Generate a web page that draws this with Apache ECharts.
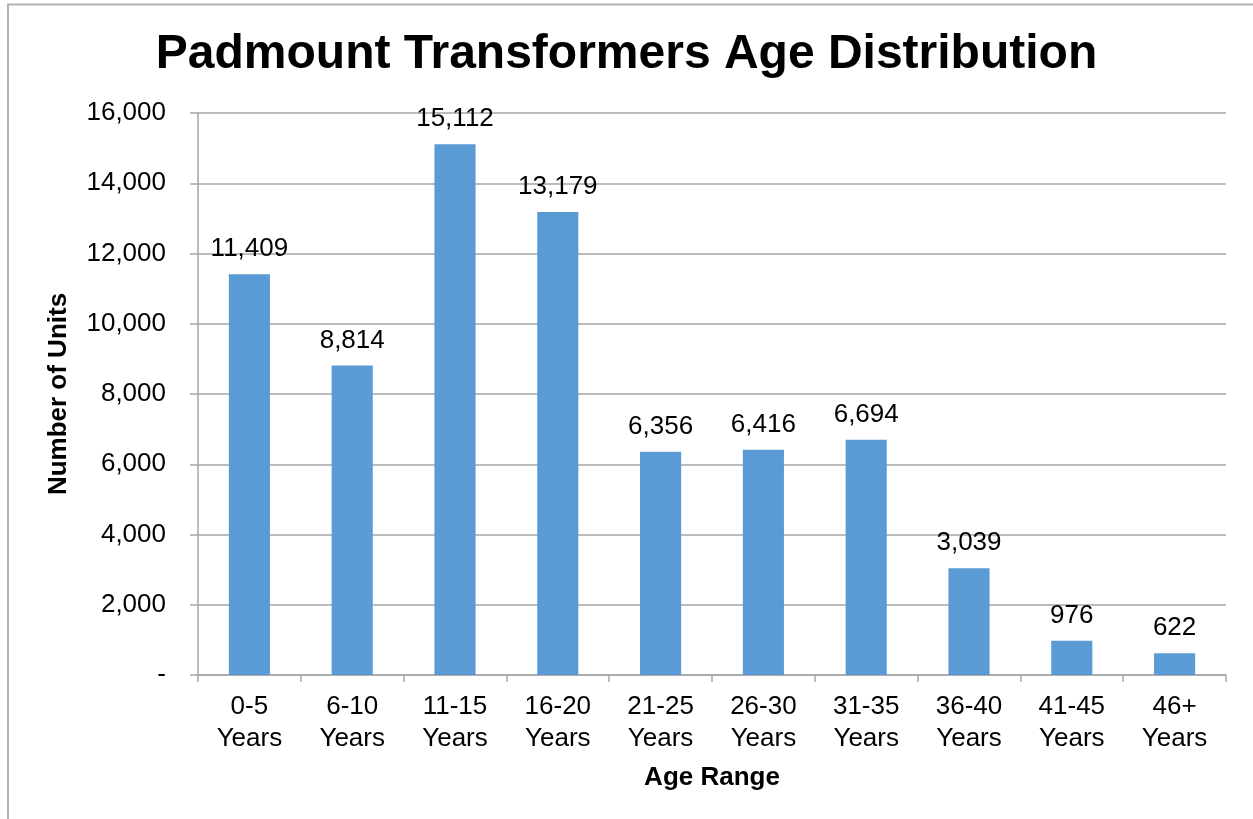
<!DOCTYPE html>
<html>
<head>
<meta charset="utf-8">
<script src="https://cdn.jsdelivr.net/npm/echarts@6/dist/echarts.min.js"></script>
<style>
  html, body { margin: 0; padding: 0; background: #fff; }
  #chart { width: 1253px; height: 819px; }
</style>
</head>
<body>
<div id="chart"></div>
<script>
// Padmount transformer counts per age bracket
const categories = ['0-5\nYears', '6-10\nYears', '11-15\nYears', '16-20\nYears', '21-25\nYears',
                    '26-30\nYears', '31-35\nYears', '36-40\nYears', '41-45\nYears', '46+\nYears'];
const units = [11409, 8814, 15112, 13179, 6356, 6416, 6694, 3039, 976, 622];
const yTicks = { min: 0, max: 16000, interval: 2000 };

const FONT = '"Liberation Sans", Arial, sans-serif';
const fmt = v => v === 0 ? '-' : v.toLocaleString('en-US');

const chart = echarts.init(document.getElementById('chart'), null, { renderer: 'canvas' });
chart.setOption({
  animation: false,
  backgroundColor: '#ffffff',
  textStyle: { fontFamily: FONT },
  graphic: [{
    type: 'rect',
    shape: { x: 8, y: 4.5, width: 1300, height: 900 },
    style: { fill: 'none', stroke: '#B4B4B4', lineWidth: 2 },
    silent: true,
    z: 100
  }],
  title: {
    text: 'Padmount Transformers Age Distribution',
    left: 'center',
    top: 31,
    padding: [0, 0, 0, 8],
    textStyle: { fontFamily: FONT, fontSize: 48, fontWeight: 'bold', color: '#000' }
  },
  grid: { left: 198, right: 27, top: 113, bottom: 144, containLabel: false },
  xAxis: {
    type: 'category',
    data: categories,
    name: 'Age Range',
    nameLocation: 'middle',
    nameGap: 90,
    nameTextStyle: { fontFamily: FONT, fontSize: 26, fontWeight: 'bold', color: '#000' },
    axisLine: { lineStyle: { color: '#A6A6A6', width: 1.5 } },
    axisTick: { show: true, alignWithLabel: false, length: 7, lineStyle: { color: '#A6A6A6', width: 1.5 } },
    axisLabel: { fontFamily: FONT, fontSize: 26, color: '#000', lineHeight: 32, margin: 16, interval: 0 }
  },
  yAxis: {
    type: 'value',
    min: yTicks.min,
    max: yTicks.max,
    interval: yTicks.interval,
    name: 'Number of Units',
    nameLocation: 'middle',
    nameGap: 126,
    nameRotate: 90,
    nameTextStyle: { fontFamily: FONT, fontSize: 26, fontWeight: 'bold', color: '#000' },
    axisLine: { show: true, lineStyle: { color: '#A6A6A6', width: 1.5 } },
    axisTick: { show: true, length: 8, lineStyle: { color: '#A6A6A6', width: 1.5 } },
    axisLabel: { fontFamily: FONT, fontSize: 26, color: '#000', margin: 32, formatter: fmt },
    splitLine: { show: true, lineStyle: { color: '#A6A6A6', width: 1.5 } }
  },
  series: [{
    type: 'bar',
    data: units,
    barWidth: '40%',
    itemStyle: { color: '#5B9BD5' },
    label: {
      show: true,
      position: 'top',
      distance: 12,
      fontFamily: FONT,
      fontSize: 26,
      color: '#000',
      formatter: p => fmt(p.value)
    }
  }]
});
</script>
</body>
</html>
